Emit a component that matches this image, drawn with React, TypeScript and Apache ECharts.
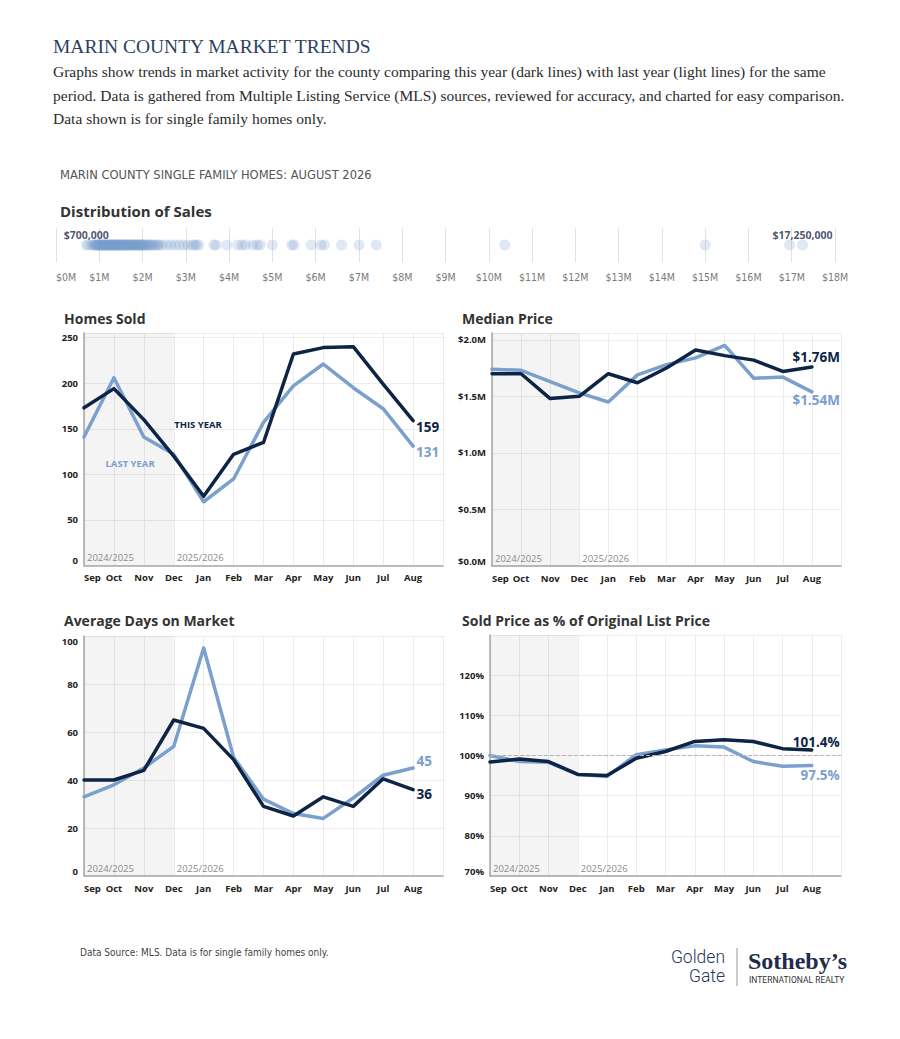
import React, { useEffect, useRef } from "react";
import * as echarts from "echarts";

const months = ["Sep", "Oct", "Nov", "Dec", "Jan", "Feb", "Mar", "Apr", "May", "Jun", "Jul", "Aug"];
const seasonLabels = ["2024/2025", "2025/2026"];

const homesSoldThisYear = [173, 194, 160, 120, 76, 122, 135, 232, 239, 240, 199, 159];
const homesSoldLastYear = [141, 206, 141, 122, 70, 95, 157, 197, 221, 195, 172, 131];

const medianPriceThisYear = [1.70, 1.70, 1.48, 1.50, 1.70, 1.62, 1.75, 1.91, 1.86, 1.82, 1.72, 1.76];
const medianPriceLastYear = [1.74, 1.73, 1.63, 1.53, 1.45, 1.69, 1.78, 1.84, 1.95, 1.66, 1.67, 1.54];

const daysOnMarketThisYear = [40, 40, 44, 65, 61.5, 48.5, 29, 25, 33, 29, 40.5, 36];
const daysOnMarketLastYear = [33, 38, 45, 54, 95, 49.5, 32, 26, 24, 32.5, 42, 45];

const pctOfListThisYear = [98.4, 99.1, 98.5, 95.3, 95.0, 99.3, 101.0, 103.5, 103.9, 103.5, 101.7, 101.4];
const pctOfListLastYear = [100.0, 98.5, 98.3, 95.3, 94.8, 100.2, 101.4, 102.4, 102.1, 98.5, 97.3, 97.5];

// Sale prices in $M for the distribution strip
const salePricesM = [
  0.70, 0.75, 0.82, 0.86, 0.89, 0.91, 0.93, 0.95, 0.96, 0.98, 0.99,
  1.00, 1.02, 1.03, 1.05, 1.06, 1.08, 1.09, 1.10, 1.12, 1.13,
  1.15, 1.16, 1.18, 1.19, 1.20, 1.22, 1.23, 1.25, 1.26, 1.28,
  1.29, 1.30, 1.32, 1.33, 1.35, 1.36, 1.38, 1.39, 1.40, 1.42,
  1.43, 1.45, 1.46, 1.48, 1.49, 1.50, 1.52, 1.53, 1.55, 1.56,
  1.58, 1.59, 1.60, 1.62, 1.63, 1.65, 1.67, 1.68, 1.70, 1.72,
  1.73, 1.75, 1.77, 1.78, 1.80, 1.82, 1.84, 1.85, 1.87, 1.89,
  1.90, 1.92, 1.94, 1.95, 1.97, 1.99, 2.00, 2.02, 2.05, 2.07,
  2.10, 2.12, 2.15, 2.18, 2.20, 2.24, 2.28, 2.32, 2.35, 2.38,
  2.45, 2.55, 2.65, 2.75, 2.85, 2.95, 3.05, 3.15, 3.20, 3.25, 3.30,
  3.65, 3.70, 3.95, 4.20, 4.30, 4.38, 4.55, 4.65, 4.72, 5.00,
  5.45, 5.50, 5.90, 6.12, 6.20, 6.60, 7.00, 7.40, 10.37, 15.00, 16.95, 17.25,
];
const distributionMaxM = 18;

// annotation anchors in data space: [monthIndex, value]
const thisYearNote = [3.81, 155];
const lastYearNote = [1.54, 111.5];

const FONT = "'Open Sans', 'Noto Sans', sans-serif";
const NARROW = "'Liberation Sans Narrow', 'DejaVu Sans Condensed', 'Roboto Condensed', Roboto, sans-serif";
const SERIF = "'Liberation Serif', 'DejaVu Serif', serif";
const DARK = "#0d2445";
const LIGHT = "#7ba0cd";
const AXIS_GRAY = "#a9a9a9";
const GRID_GRAY = "#ececec";

const toPairs = (arr: number[]) => arr.map((v, i) => [i, v]);

function monthXAxis(gridIndex: number) {
  return {
    type: "value",
    gridIndex,
    min: 0,
    max: 12,
    interval: 1,
    axisLine: { show: true, onZero: false, lineStyle: { color: AXIS_GRAY, width: 1.5 } },
    axisTick: { show: false },
    splitLine: { show: true, lineStyle: { color: GRID_GRAY, width: 1 } },
    axisLabel: {
      formatter: (v: number) => (Number.isInteger(v) && v < months.length ? months[v] : ""),
      fontSize: 9.5,
      fontWeight: "bold",
      fontFamily: FONT,
      color: "#222",
      margin: 7,
      alignMinLabel: "left",
      showMaxLabel: false,
    },
  };
}

function valueYAxis(gridIndex: number, min: number, max: number, interval: number, formatter: (v: number) => string, maxLabelVisible: boolean) {
  return {
    type: "value",
    gridIndex,
    min,
    max,
    interval,
    axisLine: { show: true, lineStyle: { color: AXIS_GRAY, width: 1.5 } },
    axisTick: { show: false },
    splitLine: { show: true, lineStyle: { color: GRID_GRAY, width: 1 } },
    axisLabel: {
      formatter,
      fontSize: 9.5,
      fontWeight: "bold",
      fontFamily: FONT,
      color: "#222",
      margin: 6,
      showMaxLabel: maxLabelVisible,
      verticalAlignMinLabel: "bottom",
      verticalAlignMaxLabel: "top",
    },
  };
}

function endMark(value: number, text: string, color: string, align: string, dx: number, dy: number) {
  return {
    coord: [months.length - 1, value],
    symbol: "circle",
    symbolSize: 1,
    itemStyle: { color: "rgba(0,0,0,0)" },
    label: {
      show: true,
      position: "inside",
      formatter: text,
      color,
      fontSize: 13.5,
      fontWeight: "bold",
      fontFamily: FONT,
      align,
      verticalAlign: "middle",
      offset: [dx, dy],
    },
  };
}

function noteMark(coord: number[], text: string, color: string) {
  return {
    coord,
    symbol: "circle",
    symbolSize: 1,
    itemStyle: { color: "rgba(0,0,0,0)" },
    label: {
      show: true,
      position: "inside",
      formatter: text,
      color,
      fontSize: 9.5,
      fontWeight: "bold",
      fontFamily: FONT,
    },
  };
}

function seasonArea() {
  const lab = (t: string) => ({
    show: true,
    position: "insideBottomLeft",
    formatter: t,
    color: "#8a8a8a",
    fontSize: 9.5,
    fontFamily: FONT,
    distance: 3,
  });
  return {
    silent: true,
    data: [
      [
        { xAxis: 0, itemStyle: { color: "rgba(0,0,0,0.045)" }, label: lab(seasonLabels[0]) },
        { xAxis: 3 },
      ],
      [
        { xAxis: 3, itemStyle: { color: "rgba(0,0,0,0)" }, label: lab(seasonLabels[1]) },
        { xAxis: 12 },
      ],
    ],
  };
}

function lineSeries(name: string, data: number[], color: string, idx: number, extra: any) {
  return {
    type: "line",
    name,
    xAxisIndex: idx,
    yAxisIndex: idx,
    data: toPairs(data),
    symbol: "none",
    silent: true,
    z: color === DARK ? 4 : 3,
    lineStyle: { color, width: 3.5, cap: "round", join: "round" },
    ...extra,
  };
}

function txt(x: number, y: number, text: string, font: string, fill: string, align = "left") {
  return {
    type: "text",
    x,
    y,
    silent: true,
    style: { text, font, fill, textAlign: align, textVerticalAlign: "middle" },
  };
}

function buildOption() {
  const lastIdx = months.length - 1;
  const minPrice = Math.min(...salePricesM);
  const maxPrice = Math.max(...salePricesM);
  const priceLabel = (v: number) => "$" + Math.round(v * 1e6).toLocaleString("en-US");

  const distData = salePricesM.map((v) => {
    const item: any = { value: [v, 0.5] };
    if (v === minPrice || v === maxPrice) {
      item.label = {
        show: true,
        position: "inside",
        offset: [0, -10],
        formatter: priceLabel(v),
        color: "#1d2c4c",
        fontSize: 10.5,
        fontWeight: "bold",
        fontFamily: FONT,
      };
    }
    return item;
  });

  return {
    animation: false,
    backgroundColor: "#ffffff",
    grid: [
      { left: 84, top: 333, width: 359, height: 232.6 },
      { left: 492, top: 333, width: 349, height: 233 },
      { left: 84, top: 636, width: 359, height: 240 },
      { left: 490, top: 635, width: 351, height: 241 },
      { left: 56, top: 228, width: 779, height: 34 },
    ],
    xAxis: [
      monthXAxis(0),
      monthXAxis(1),
      monthXAxis(2),
      monthXAxis(3),
      {
        type: "value",
        gridIndex: 4,
        min: 0,
        max: distributionMaxM,
        interval: 1,
        axisLine: { show: false },
        axisTick: { show: false },
        splitLine: { show: true, lineStyle: { color: "#e2e2e2", width: 1 } },
        axisLabel: {
          formatter: (v: number) => `$${v}M`,
          fontSize: 10.5,
          fontFamily: NARROW,
          color: "#7a7a7a",
          margin: 9,
          alignMinLabel: "left",
        },
      },
    ],
    yAxis: [
      valueYAxis(0, 0, 255, 50, (v) => `${v}`, false),
      valueYAxis(1, 0, 2.06, 0.5, (v) => `$${v.toFixed(1)}M`, false),
      valueYAxis(2, 0, 100, 20, (v) => `${v}`, true),
      valueYAxis(3, 70, 130, 10, (v) => `${v}%`, false),
      { type: "value", gridIndex: 4, min: 0, max: 1, show: false },
    ],
    series: [
      // Homes Sold
      lineSeries("Homes Sold Last Year", homesSoldLastYear, LIGHT, 0, {
        markArea: seasonArea(),
        markPoint: {
          silent: true,
          data: [
            endMark(homesSoldLastYear[lastIdx], `${homesSoldLastYear[lastIdx]}`, LIGHT, "left", 3, 6),
            noteMark(lastYearNote, "LAST YEAR", LIGHT),
          ],
        },
      }),
      lineSeries("Homes Sold This Year", homesSoldThisYear, DARK, 0, {
        markPoint: {
          silent: true,
          data: [
            endMark(homesSoldThisYear[lastIdx], `${homesSoldThisYear[lastIdx]}`, DARK, "left", 3, 6),
            noteMark(thisYearNote, "THIS YEAR", DARK),
          ],
        },
      }),
      // Median Price
      lineSeries("Median Price Last Year", medianPriceLastYear, LIGHT, 1, {
        markArea: seasonArea(),
        markPoint: {
          silent: true,
          data: [endMark(medianPriceLastYear[lastIdx], `$${medianPriceLastYear[lastIdx].toFixed(2)}M`, LIGHT, "right", 28, 8)],
        },
      }),
      lineSeries("Median Price This Year", medianPriceThisYear, DARK, 1, {
        markPoint: {
          silent: true,
          data: [endMark(medianPriceThisYear[lastIdx], `$${medianPriceThisYear[lastIdx].toFixed(2)}M`, DARK, "right", 28, -10)],
        },
      }),
      // Days on market
      lineSeries("Days Last Year", daysOnMarketLastYear, LIGHT, 2, {
        markArea: seasonArea(),
        markPoint: {
          silent: true,
          data: [endMark(daysOnMarketLastYear[lastIdx], `${daysOnMarketLastYear[lastIdx]}`, LIGHT, "left", 3.5, -7)],
        },
      }),
      lineSeries("Days This Year", daysOnMarketThisYear, DARK, 2, {
        markPoint: {
          silent: true,
          data: [endMark(daysOnMarketThisYear[lastIdx], `${daysOnMarketThisYear[lastIdx]}`, DARK, "left", 3.5, 4.5)],
        },
      }),
      // Sold price % of list
      lineSeries("Pct Last Year", pctOfListLastYear, LIGHT, 3, {
        markArea: seasonArea(),
        markPoint: {
          silent: true,
          data: [endMark(pctOfListLastYear[lastIdx], `${pctOfListLastYear[lastIdx].toFixed(1)}%`, LIGHT, "right", 28, 9.5)],
        },
      }),
      lineSeries("Pct This Year", pctOfListThisYear, DARK, 3, {
        markLine: {
          silent: true,
          symbol: ["none", "none"],
          label: { show: false },
          lineStyle: { type: "dashed", color: "#b5b5b5", width: 1 },
          data: [{ yAxis: 100 }],
        },
        markPoint: {
          silent: true,
          data: [endMark(pctOfListThisYear[lastIdx], `${pctOfListThisYear[lastIdx].toFixed(1)}%`, DARK, "right", 28, -8)],
        },
      }),
      // Distribution of sales
      {
        type: "scatter",
        xAxisIndex: 4,
        yAxisIndex: 4,
        symbolSize: 11,
        silent: true,
        itemStyle: { color: "rgba(122,158,206,0.3)" },
        data: distData,
      },
    ],
    graphic: [
      txt(53, 46, "MARIN COUNTY MARKET TRENDS", `19.5px ${SERIF}`, "#2e3f61"),
      txt(53, 71, "Graphs show trends in market activity for the county comparing this year (dark lines) with last year (light lines) for the same", `15.5px ${SERIF}`, "#2b2b2b"),
      txt(53, 95, "period. Data is gathered from Multiple Listing Service (MLS) sources, reviewed for accuracy, and charted for easy comparison.", `15.5px ${SERIF}`, "#2b2b2b"),
      txt(53, 118, "Data shown is for single family homes only.", `15.5px ${SERIF}`, "#2b2b2b"),
      txt(60, 174, "MARIN COUNTY SINGLE FAMILY HOMES: AUGUST 2026", `12.8px ${NARROW}`, "#555555"),
      txt(60, 211, "Distribution of Sales", `bold 15px ${FONT}`, "#333333"),
      txt(64, 318, "Homes Sold", `bold 14px ${FONT}`, "#333333"),
      txt(462, 318, "Median Price", `bold 14px ${FONT}`, "#333333"),
      txt(64, 620, "Average Days on Market", `bold 14px ${FONT}`, "#333333"),
      txt(462, 620, "Sold Price as % of Original List Price", `bold 14px ${FONT}`, "#333333"),
      txt(80, 952, "Data Source: MLS. Data is for single family homes only.", `10px ${NARROW}`, "#444444"),
      txt(725, 957, "Golden", `300 17.5px Roboto, ${FONT}`, "#27375a", "right"),
      txt(725, 976, "Gate", `300 17.5px Roboto, ${FONT}`, "#27375a", "right"),
      {
        type: "line",
        silent: true,
        shape: { x1: 737, y1: 948, x2: 737, y2: 986 },
        style: { stroke: "#9a9a9a", lineWidth: 1 },
      },
      txt(748, 961, "Sotheby\u2019s", `bold 24px ${SERIF}`, "#1f2d4d"),
      txt(749, 980, "INTERNATIONAL REALTY", `8.5px Roboto, ${FONT}`, "#333333"),
    ],
  };
}

export default function App() {
  const ref = useRef<HTMLDivElement>(null);
  useEffect(() => {
    if (!ref.current) return;
    const chart = echarts.init(ref.current, null, { renderer: "svg", width: 900, height: 1039 });
    chart.setOption(buildOption() as any);
    return () => chart.dispose();
  }, []);
  return (
    <div
      ref={ref}
      style={{ position: "absolute", left: 0, top: 0, width: 900, height: 1039, background: "#fff" }}
    />
  );
}
